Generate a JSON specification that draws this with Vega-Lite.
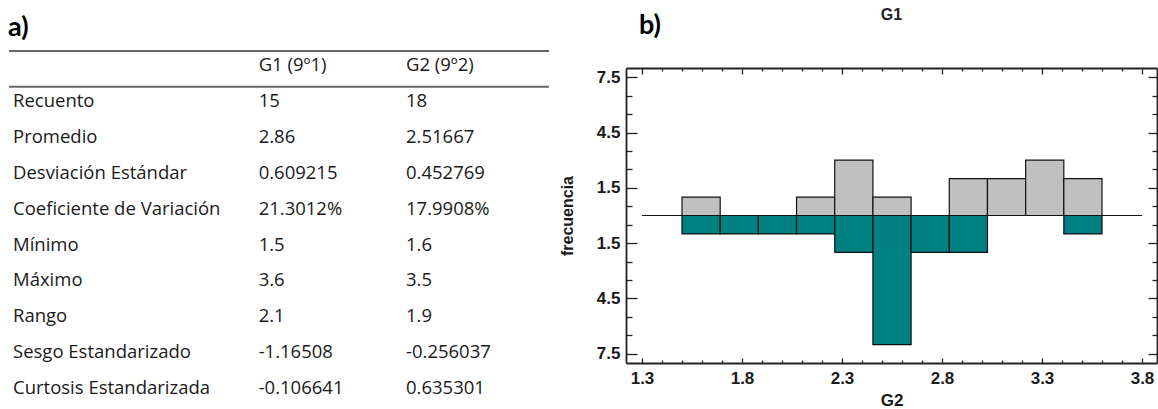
{
  "$schema": "https://vega.github.io/schema/vega-lite/v6.json",
  "padding": {"left": 8, "top": 7, "right": 0, "bottom": 0},
  "spacing": 9,
  "config": {"view": {"stroke": null}, "font": "Liberation Sans"},
  "hconcat": [
    {
      "width": 540,
      "height": 295,
      "title": {"text": "a)", "anchor": "start", "font": "Lato", "fontSize": 27, "fontWeight": "bold", "color": "black", "offset": 8},
      "layer": [
        {
          "data": {"values": [
            {"row": 0, "stat": "", "G1": "G1 (9º1)", "G2": "G2 (9º2)"},
            {"row": 1, "stat": "Recuento", "G1": "15", "G2": "18"},
            {"row": 2, "stat": "Promedio", "G1": "2.86", "G2": "2.51667"},
            {"row": 3, "stat": "Desviación Estándar", "G1": "0.609215", "G2": "0.452769"},
            {"row": 4, "stat": "Coeficiente de Variación", "G1": "21.3012%", "G2": "17.9908%"},
            {"row": 5, "stat": "Mínimo", "G1": "1.5", "G2": "1.6"},
            {"row": 6, "stat": "Máximo", "G1": "3.6", "G2": "3.5"},
            {"row": 7, "stat": "Rango", "G1": "2.1", "G2": "1.9"},
            {"row": 8, "stat": "Sesgo Estandarizado", "G1": "-1.16508", "G2": "-0.256037"},
            {"row": 9, "stat": "Curtosis Estandarizada", "G1": "-0.106641", "G2": "0.635301"}
          ]},
          "transform": [{"fold": ["stat", "G1", "G2"], "as": ["col", "text"]}],
          "mark": {"type": "text", "align": "left", "baseline": "middle", "font": "Open Sans", "fontSize": 18.5, "color": "#1a1a1a"},
          "encoding": {
            "x": {"field": "col", "type": "nominal", "scale": {"type": "point", "domain": ["stat", "s1", "s2", "s3", "s4", "G1", "s5", "s6", "G2"], "range": [4, 397], "padding": 0}, "axis": null},
            "y": {"field": "row", "type": "quantitative", "scale": {"domain": [0.0836, 8.3], "reverse": true, "nice": false, "zero": false}, "axis": null},
            "text": {"field": "text"}
          }
        },
        {
          "data": {"values": [{}]},
          "mark": {"type": "rule", "color": "#666666", "strokeWidth": 2},
          "encoding": {"y": {"datum": -0.39}}
        },
        {
          "data": {"values": [{}]},
          "mark": {"type": "rule", "color": "#666666", "strokeWidth": 2},
          "encoding": {"y": {"datum": 0.604}}
        }
      ]
    },
    {
      "width": 531,
      "height": 295,
      "resolve": {"axis": {"x": "independent", "y": "independent"}},
      "layer": [
        {
          "data": {"values": [
            {"group": "G1", "bin_start": 1.5, "bin_end": 1.6909, "freq": 1},
            {"group": "G1", "bin_start": 2.0727, "bin_end": 2.2636, "freq": 1},
            {"group": "G1", "bin_start": 2.2636, "bin_end": 2.4545, "freq": 3},
            {"group": "G1", "bin_start": 2.4545, "bin_end": 2.6455, "freq": 1},
            {"group": "G1", "bin_start": 2.8364, "bin_end": 3.0273, "freq": 2},
            {"group": "G1", "bin_start": 3.0273, "bin_end": 3.2182, "freq": 2},
            {"group": "G1", "bin_start": 3.2182, "bin_end": 3.4091, "freq": 3},
            {"group": "G1", "bin_start": 3.4091, "bin_end": 3.6, "freq": 2},
            {"group": "G2", "bin_start": 1.5, "bin_end": 1.6909, "freq": -1},
            {"group": "G2", "bin_start": 1.6909, "bin_end": 1.8818, "freq": -1},
            {"group": "G2", "bin_start": 1.8818, "bin_end": 2.0727, "freq": -1},
            {"group": "G2", "bin_start": 2.0727, "bin_end": 2.2636, "freq": -1},
            {"group": "G2", "bin_start": 2.2636, "bin_end": 2.4545, "freq": -2},
            {"group": "G2", "bin_start": 2.4545, "bin_end": 2.6455, "freq": -7},
            {"group": "G2", "bin_start": 2.6455, "bin_end": 2.8364, "freq": -2},
            {"group": "G2", "bin_start": 2.8364, "bin_end": 3.0273, "freq": -2},
            {"group": "G2", "bin_start": 3.4091, "bin_end": 3.6, "freq": -1}
          ]},
          "mark": {"type": "rect", "stroke": "#111", "strokeWidth": 1.2},
          "encoding": {
            "x": {
              "field": "bin_start", "type": "quantitative",
              "scale": {"domain": [1.22, 3.875], "nice": false, "zero": false},
              "axis": {
                "orient": "bottom",
                "values": [1.3,1.4,1.5,1.6,1.7,1.8,1.9,2.0,2.1,2.2,2.3,2.4,2.5,2.6,2.7,2.8,2.9,3.0,3.1,3.2,3.3,3.4,3.5,3.6,3.7,3.8],
                "format": ".1f",
                "labelExpr": "round(datum.value*10) % 5 == 3 ? datum.label : ''",
                "labelOverlap": false, "labelFlush": false,
                "labelFont": "Liberation Sans", "labelFontSize": 17, "labelFontWeight": "bold", "labelColor": "#1a1a1a",
                "labelPadding": 12,
                "tickSize": {"condition": {"test": "round(datum.value*10) % 5 == 3", "value": -5}, "value": -3},
                "tickColor": "#222", "tickWidth": 1.3,
                "domainColor": "#222", "domainWidth": 1.8,
                "grid": false,
                "title": "G2", "titleFont": "Liberation Sans", "titleFontSize": 17, "titleFontWeight": "bold", "titleColor": "#1a1a1a", "titlePadding": 4
              }
            },
            "x2": {"field": "bin_end"},
            "y": {
              "field": "freq", "type": "quantitative",
              "scale": {"domain": [-8, 8], "nice": false, "zero": false},
              "axis": {
                "orient": "left",
                "values": [-7.5,-6.5,-5.5,-4.5,-3.5,-2.5,-1.5,-0.5,0.5,1.5,2.5,3.5,4.5,5.5,6.5,7.5],
                "labelExpr": "abs(datum.value) % 3 == 1.5 ? format(abs(datum.value), '.1f') : ''",
                "labelOverlap": false, "labelFlush": false,
                "labelFont": "Liberation Sans", "labelFontSize": 17, "labelFontWeight": "bold", "labelColor": "#1a1a1a",
                "labelPadding": 17,
                "tickSize": {"condition": {"test": "abs(datum.value) % 3 == 1.5", "value": -11}, "value": -6},
                "tickColor": "#222", "tickWidth": 1.3,
                "domainColor": "#222", "domainWidth": 1.8,
                "grid": false,
                "title": "frecuencia", "titleFont": "Liberation Sans", "titleFontSize": 16, "titleFontWeight": "bold", "titleColor": "#1a1a1a", "titlePadding": 21
              }
            },
            "y2": {"datum": 0},
            "color": {"field": "group", "type": "nominal", "scale": {"domain": ["G1", "G2"], "range": ["#c0c0c0", "#008080"]}, "legend": null}
          }
        },
        {
          "data": {"values": [{}]},
          "mark": {"type": "rule", "color": "#111", "strokeWidth": 1.2},
          "encoding": {
            "x": {
              "datum": 1.3,
              "scale": {"domain": [1.22, 3.875], "nice": false, "zero": false},
              "axis": {
                "orient": "top",
                "values": [1.3,1.4,1.5,1.6,1.7,1.8,1.9,2.0,2.1,2.2,2.3,2.4,2.5,2.6,2.7,2.8,2.9,3.0,3.1,3.2,3.3,3.4,3.5,3.6,3.7,3.8],
                "labels": false, "title": null, "grid": false,
                "tickSize": {"condition": {"test": "round(datum.value*10) % 5 == 3", "value": -6}, "value": -3},
                "tickColor": "#222", "tickWidth": 1.3,
                "domainColor": "#222", "domainWidth": 1.8
              }
            },
            "x2": {"datum": 3.8},
            "y": {
              "datum": 0,
              "scale": {"domain": [-8, 8], "nice": false, "zero": false},
              "axis": {
                "orient": "right",
                "values": [-7.5,-6.5,-5.5,-4.5,-3.5,-2.5,-1.5,-0.5,0.5,1.5,2.5,3.5,4.5,5.5,6.5,7.5],
                "labels": false, "title": null, "grid": false,
                "tickSize": {"condition": {"test": "abs(datum.value) % 3 == 1.5", "value": -9}, "value": -5},
                "tickColor": "#222", "tickWidth": 1.3,
                "domainColor": "#222", "domainWidth": 1.8
              }
            }
          }
        },
        {
          "data": {"values": [{"label": "b)"}]},
          "mark": {"type": "text", "align": "center", "baseline": "middle", "font": "Lato", "fontSize": 27, "fontWeight": "bold", "color": "black"},
          "encoding": {
            "x": {"datum": 1.34, "axis": null},
            "y": {"datum": 10.3, "axis": null},
            "text": {"field": "label"}
          }
        },
        {
          "data": {"values": [{"label": "G1"}]},
          "mark": {"type": "text", "align": "center", "baseline": "middle", "font": "Liberation Sans", "fontSize": 16, "fontWeight": "bold", "color": "#222"},
          "encoding": {
            "x": {"datum": 2.5475, "axis": null},
            "y": {"datum": 10.87, "axis": null},
            "text": {"field": "label"}
          }
        }
      ]
    }
  ]
}
